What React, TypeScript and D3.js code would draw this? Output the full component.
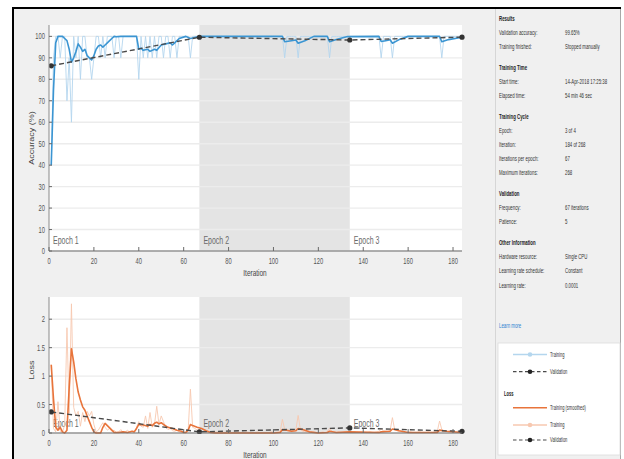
import React from "react";
import * as d3 from "d3";

// ---- data -------------------------------------------------------------
const iterations: number[] = d3.range(1, 185);

// mini-batch training accuracy (%) per iteration
const trainAcc: number[] = [
  40, 90, 100, 100, 90, 100, 100, 70, 90, 60,
  100, 90, 100, 80, 100, 100, 90, 90, 80, 90,
  100, 100, 90, 100, 90, 100, 100, 100, 90, 100,
  100, 90, 100, 100, 100, 100, 100, 100, 100, 80,
  100, 90, 100, 90, 100, 90, 100, 90, 100, 100,
  90, 100, 100, 90, 100, 100, 90, 100, 100, 100,
  100, 100, 90, 100, 100, 100, 100,
  100, 100, 100, 100, 100, 100, 100, 100, 100, 100,
  100, 100, 100, 100, 100, 100, 100, 100, 100, 100,
  100, 100, 100, 100, 100, 100, 100, 100, 100, 100,
  100, 100, 100, 100, 100, 100, 100, 90, 100, 100,
  100, 100, 100, 90, 100, 100, 100, 100, 100, 100,
  100, 100, 100, 100, 100, 100, 100, 90, 100, 100,
  100, 100, 100, 100, 100, 100, 100,
  100, 100, 100, 100, 100, 100, 100, 100, 100, 100,
  100, 100, 100, 90, 100, 100, 100, 100, 90, 100,
  100, 100, 100, 100, 100, 100, 100, 100, 100, 100,
  100, 100, 100, 100, 100, 100, 100, 100, 100, 100,
  90, 100, 100, 100, 100, 100, 100, 100, 100, 100,
];

// smoothed training accuracy
const smoothAccIter: number[] = [
  1, 2, 3, 4, 6, 7, 8, 9, 10, 11, 12, 13, 14, 15, 16, 17, 18, 19, 20, 21, 22, 23, 24, 25, 26, 27, 28, 29,
  30, 32, 39, 40, 41, 42, 44, 45, 47, 48, 50, 52, 54, 55, 56, 58, 61, 63, 65, 67,
  104, 105, 108, 110, 111, 114, 118, 124, 125, 128, 133, 147, 148, 150, 152, 153, 156, 160, 174, 175, 178, 184,
];
const smoothAcc: number[] = [
  40, 75, 97, 100, 100, 99, 98, 94, 88, 90, 93, 96.5, 95, 93, 94, 91, 90, 89, 91, 94, 95.5, 96, 95, 96, 97, 98, 99, 100,
  99.8, 100, 100, 94, 94.5, 93.5, 94, 93, 94, 93.5, 96, 96.5, 97, 96, 97, 99, 100, 99, 99.5, 100,
  100, 97.5, 98, 98.3, 96.8, 98, 100, 100, 97.5, 98.5, 99.9, 100, 97.6, 98, 98.4, 96.8, 98.5, 100, 100, 97.5, 98.5, 99.6,
];

const valIter: number[] = [1, 67, 134, 184];
const valAcc: number[] = [86.3, 99.6, 98.3, 99.65];

// mini-batch training loss per iteration
const trainLoss: number[] = [
  1.2, 0.08, 0.02, 0.55, 0.03, 0.01, 0.15, 1.85, 0.35, 2.27,
  0.45, 0.3, 0.38, 0.12, 0.36, 0.2, 0.38, 0.3, 0.38, 0.15,
  0.02, 0.05, 0.12, 0.18, 0.1, 0.05, 0.08, 0.03, 0.05, 0.01,
  0.02, 0.06, 0.01, 0.02, 0.05, 0.01, 0.03, 0.02, 0.1, 0.2,
  0.12, 0.1, 0.3, 0.08, 0.36, 0.1, 0.15, 0.47, 0.15, 0.3,
  0.2, 0.1, 0.06, 0.08, 0.04, 0.03, 0.05, 0.02, 0.01, 0.02,
  0.01, 0.05, 0.77, 0.1, 0.08, 0.05, 0.06,
  0.03, 0.02, 0.01, 0.02, 0.01, 0.01, 0.02, 0.01, 0.01, 0.02,
  0.01, 0.01, 0.02, 0.01, 0.01, 0.01, 0.02, 0.01, 0.01, 0.01,
  0.02, 0.01, 0.01, 0.01, 0.01, 0.02, 0.01, 0.01, 0.01, 0.01,
  0.01, 0.02, 0.01, 0.01, 0.02, 0.03, 0.24,
  0.06, 0.04, 0.03, 0.05, 0.04, 0.06, 0.31, 0.06, 0.03, 0.02,
  0.02, 0.01, 0.01, 0.02, 0.01, 0.01, 0.01, 0.02, 0.01, 0.03,
  0.08, 0.03, 0.02, 0.01, 0.02, 0.01, 0.01, 0.02, 0.01, 0.02,
  0.01, 0.02, 0.01, 0.01, 0.02, 0.01, 0.01, 0.01, 0.02, 0.01,
  0.01, 0.02, 0.03, 0.07, 0.04, 0.03, 0.03, 0.05, 0.27, 0.06,
  0.04, 0.03, 0.02, 0.02, 0.01, 0.01, 0.02, 0.01, 0.01, 0.01,
  0.02, 0.01, 0.01, 0.01, 0.02, 0.01, 0.01, 0.02, 0.03, 0.21,
  0.06, 0.04, 0.03, 0.02, 0.02, 0.01, 0.02, 0.01, 0.01, 0.02,
];

// smoothed training loss
const smoothLossIter: number[] = [
  1, 2, 3, 4, 5, 6, 7, 8, 9, 10, 11, 12, 13, 14, 15, 16, 17, 18, 19, 20, 21, 23, 24, 25, 26, 27, 28, 29,
  31, 33, 35, 37, 38, 39, 40, 42, 44, 45, 46, 47, 48, 49, 50, 51, 53, 55, 57, 59, 60, 61, 62, 63, 64, 66,
  68, 70, 72, 74, 100, 103, 104, 106, 108, 110, 111, 113, 116, 120, 124, 125, 128, 134, 147, 148, 152, 153,
  156, 160, 173, 174, 177, 184,
];
const smoothLoss: number[] = [
  1.2, 0.6, 0.1, 0.05, 0.1, 0.02, 0, 0.05, 0.8, 1.48, 1.25, 0.95, 0.72, 0.58, 0.46, 0.4, 0.3, 0.2, 0.1, 0.02, 0, 0, 0.1, 0.17, 0.13, 0.09, 0.05, 0.01,
  0.01, 0.02, 0.01, 0.03, 0.02, 0.08, 0.15, 0.14, 0.12, 0.15, 0.13, 0.17, 0.19, 0.16, 0.18, 0.15, 0.1, 0.08, 0.05, 0.03, 0.01, 0.01, 0.05, 0.15, 0.13, 0.1,
  0.08, 0.04, 0.01, 0, 0, 0.01, 0.06, 0.05, 0.03, 0.04, 0.08, 0.06, 0.02, 0, 0.01, 0.03, 0.01, 0.02, 0.01, 0.02, 0.03, 0.07,
  0.04, 0.01, 0.01, 0.05, 0.03, 0.01,
];

const valLoss: number[] = [0.37, 0.02, 0.09, 0.03];

const epochStarts: number[] = [0, 67, 134];
const epochNames: string[] = ["Epoch 1", "Epoch 2", "Epoch 3"];
const xTicks: number[] = [0, 20, 40, 60, 80, 100, 120, 140, 160, 180];
const accTicks: number[] = [0, 10, 20, 30, 40, 50, 60, 70, 80, 90, 100];
const lossTicks: number[] = [0, 0.5, 1, 1.5, 2];

// info panel
const infoSections: string[] = ["Results", "Training Time", "Training Cycle", "Validation", "Other Information"];
const infoLabels: string[][] = [
  ["Validation accuracy:", "Training finished:"],
  ["Start time:", "Elapsed time:"],
  ["Epoch:", "Iteration:", "Iterations per epoch:", "Maximum iterations:"],
  ["Frequency:", "Patience:"],
  ["Hardware resource:", "Learning rate schedule:", "Learning rate:"],
];
const infoValues: string[][] = [
  ["99.65%", "Stopped manually"],
  ["14-Apr-2018 17:25:38", "54 min 46 sec"],
  ["3 of 4", "184 of 268", "67", "268"],
  ["67 iterations", "5"],
  ["Single CPU", "Constant", "0.0001"],
];

// ---- styling ----------------------------------------------------------
const FONT = "'Liberation Sans', Arial, sans-serif";
const BLUE = "#3b95d2";
const BLUE_LIGHT = "#b4d6ee";
const ORANGE = "#e8743b";
const ORANGE_LIGHT = "#f7c8b0";
const VAL = "#4a4a4a";
const GRAY_BAND = "#e4e4e4";
const TICK_TXT = "#555";

const X0 = 49;
const X1 = 462;
const x = d3.scaleLinear().domain([0, 184]).range([X0, X1]);
const yAcc = d3.scaleLinear().domain([0, 105.3]).range([251, 25]);
const yLoss = d3.scaleLinear().domain([0, 2.39]).range([433, 297]);

type TxtProps = {
  x: number;
  y: number;
  size?: number;
  k?: number;
  anchor?: "start" | "middle" | "end";
  weight?: string | number;
  fill?: string;
  vertical?: boolean;
  children: React.ReactNode;
};

// narrow text: squeezed along the page's horizontal direction
function Txt({ x, y, size = 8.5, k = 0.68, anchor = "start", weight = "normal", fill = TICK_TXT, vertical = false, children }: TxtProps) {
  const t = vertical
    ? `translate(${x},${y}) rotate(-90) scale(1,${k})`
    : `translate(${x},${y}) scale(${k},1)`;
  return (
    <text transform={t} fontSize={size} fontFamily={FONT} textAnchor={anchor} fontWeight={weight} fill={fill}>
      {children}
    </text>
  );
}

type PanelProps = {
  y: d3.ScaleLinear<number, number>;
  id: string;
  yTicks: number[];
  yTickFmt: (v: number) => string;
  yLabel: string;
  yLabelPos: number;
  raw: number[];
  rawColor: string;
  smoothIter: number[];
  smooth: number[];
  smoothColor: string;
  val: number[];
  xLabelY: number;
  epochLabelY: number;
};

function Panel(p: PanelProps) {
  const [yb, yt] = p.y.range();
  const lineRaw = d3.line<number>().x((_, i) => x(iterations[i])).y((d) => p.y(d));
  const lineSmooth = d3.line<number>().x((_, i) => x(p.smoothIter[i])).y((d) => p.y(d));
  const lineVal = d3.line<number>().x((_, i) => x(valIter[i])).y((d) => p.y(d));
  return (
    <g>
      <defs>
        <clipPath id={p.id}>
          <rect x={X0} y={yt - 2} width={X1 - X0 + 4} height={yb - yt + 3} />
        </clipPath>
      </defs>
      <rect x={X0} y={yt} width={X1 - X0} height={yb - yt} fill="#fff" />
      <rect x={x(epochStarts[1])} y={yt} width={x(epochStarts[2]) - x(epochStarts[1])} height={yb - yt} fill={GRAY_BAND} />
      {p.yTicks.map((t) => (
        <line key={t} x1={X0} x2={X1} y1={p.y(t)} y2={p.y(t)} stroke="#ececec" strokeWidth={1.4} />
      ))}
      {epochStarts.map((e, i) => (
        <Txt key={e} x={x(e) + 4} y={p.epochLabelY} size={10} k={0.7} fill="#6a6a6a">
          {epochNames[i]}
        </Txt>
      ))}
      <g clipPath={`url(#${p.id})`}>
        <path d={lineRaw(p.raw) || ""} fill="none" stroke={p.rawColor} strokeWidth={0.9} />
        <path d={lineSmooth(p.smooth) || ""} fill="none" stroke={p.smoothColor} strokeWidth={1.6} strokeLinejoin="round" />
        <path d={lineVal(p.val) || ""} fill="none" stroke={VAL} strokeWidth={1.4} strokeDasharray="5,3" />
        {p.val.map((v, i) => (
          <circle key={i} cx={x(valIter[i])} cy={p.y(v)} r={2.6} fill="#333" />
        ))}
      </g>
      {/* axes */}
      <line x1={X0} x2={X0} y1={yt} y2={yb} stroke="#8a8a8a" strokeWidth={1} />
      <line x1={X0} x2={X1} y1={yb} y2={yb} stroke="#6a6a6a" strokeWidth={1} />
      {p.yTicks.map((t) => (
        <g key={t}>
          <line x1={X0} x2={X0 + 3} y1={p.y(t)} y2={p.y(t)} stroke="#6a6a6a" />
          <Txt x={X0 - 4} y={p.y(t) + 3} anchor="end">
            {p.yTickFmt(t)}
          </Txt>
        </g>
      ))}
      {xTicks.map((t) => (
        <g key={t}>
          <line x1={x(t)} x2={x(t)} y1={yb} y2={yb - 4} stroke="#6a6a6a" />
          <Txt x={x(t)} y={yb + 12.5} anchor="middle">
            {t}
          </Txt>
        </g>
      ))}
      <Txt x={255} y={p.xLabelY} anchor="middle" size={9} k={0.72} fill="#444">
        Iteration
      </Txt>
      <Txt x={34} y={p.yLabelPos} anchor="middle" size={9} k={0.72} fill="#444" vertical>
        {p.yLabel}
      </Txt>
    </g>
  );
}

function InfoPanel() {
  const rows: React.ReactNode[] = [];
  let yy = 20.5;
  infoSections.forEach((s, si) => {
    rows.push(
      <Txt key={`s${si}`} x={499} y={yy} size={7} k={0.62} weight="bold" fill="#222">
        {s}
      </Txt>
    );
    yy += 14.3;
    infoLabels[si].forEach((lab, li) => {
      rows.push(
        <Txt key={`l${si}-${li}`} x={499} y={yy} size={7} k={0.62} fill="#333">
          {lab}
        </Txt>
      );
      rows.push(
        <Txt key={`v${si}-${li}`} x={565} y={yy} size={7} k={0.62} fill="#333">
          {infoValues[si][li]}
        </Txt>
      );
      yy += 14.2;
    });
    yy += 6.3;
  });
  return <g>{rows}</g>;
}

function Legend() {
  const lx0 = 513;
  const lx1 = 547;
  const mid = (lx0 + lx1) / 2;
  const tx = 550;
  return (
    <g>
      <rect x={498} y={343} width={122} height={112} fill="#fff" stroke="#dcdcdc" strokeWidth={0.8} />
      <line x1={lx0} x2={lx1} y1={354.5} y2={354.5} stroke={BLUE_LIGHT} strokeWidth={1.3} />
      <circle cx={mid} cy={354.5} r={2.3} fill={BLUE_LIGHT} />
      <Txt x={tx} y={356.5} size={6.5} k={0.62} fill="#333">Training</Txt>
      <line x1={lx0} x2={lx1} y1={371.7} y2={371.7} stroke={VAL} strokeWidth={1.2} strokeDasharray="3.5,2.5" />
      <circle cx={mid} cy={371.7} r={2.3} fill="#222" />
      <Txt x={tx} y={373.7} size={6.5} k={0.62} fill="#333">Validation</Txt>
      <Txt x={504} y={395.5} size={6.5} k={0.62} weight="bold" fill="#222">Loss</Txt>
      <line x1={lx0} x2={lx1} y1={407.7} y2={407.7} stroke={ORANGE} strokeWidth={1.4} />
      <Txt x={tx} y={409.7} size={6.5} k={0.62} fill="#333">Training (smoothed)</Txt>
      <line x1={lx0} x2={lx1} y1={425} y2={425} stroke={ORANGE_LIGHT} strokeWidth={1.3} />
      <circle cx={mid} cy={425} r={2.3} fill={ORANGE_LIGHT} />
      <Txt x={tx} y={427} size={6.5} k={0.62} fill="#333">Training</Txt>
      <line x1={lx0} x2={lx1} y1={440} y2={440} stroke={VAL} strokeWidth={1.2} strokeDasharray="3.5,2.5" />
      <circle cx={mid} cy={440} r={2.3} fill="#222" />
      <Txt x={tx} y={442} size={6.5} k={0.62} fill="#333">Validation</Txt>
    </g>
  );
}

export default function App() {
  return (
    <svg width={624} height={459} style={{ position: "absolute", left: 0, top: 0, display: "block" }}>
      <rect x={0} y={0} width={624} height={459} fill="#fff" />
      <rect x={13} y={8} width={608} height={451} fill="#f0f0f0" />
      <line x1={495.5} x2={495.5} y1={9} y2={459} stroke="#d6d6d6" />
      <line x1={620.5} x2={620.5} y1={8} y2={459} stroke="#a8a8a8" />
      <Panel
        id="accClip"
        y={yAcc}
        yTicks={accTicks}
        yTickFmt={(v) => String(v)}
        yLabel="Accuracy (%)"
        yLabelPos={138}
        raw={trainAcc}
        rawColor={BLUE_LIGHT}
        smoothIter={smoothAccIter}
        smooth={smoothAcc}
        smoothColor={BLUE}
        val={valAcc}
        xLabelY={276}
        epochLabelY={243.5}
      />
      <Panel
        id="lossClip"
        y={yLoss}
        yTicks={lossTicks}
        yTickFmt={(v) => String(v)}
        yLabel="Loss"
        yLabelPos={370}
        raw={trainLoss}
        rawColor={ORANGE_LIGHT}
        smoothIter={smoothLossIter}
        smooth={smoothLoss}
        smoothColor={ORANGE}
        val={valLoss}
        xLabelY={457.5}
        epochLabelY={426.5}
      />
      <InfoPanel />
      <Txt x={499} y={328} size={7} k={0.62} fill="#2a7fd0">Learn more</Txt>
      <Legend />
      <line x1={12} x2={621} y1={8} y2={8} stroke="#000" strokeWidth={2} />
      <line x1={13} x2={13} y1={7} y2={459} stroke="#000" strokeWidth={2} />
    </svg>
  );
}
